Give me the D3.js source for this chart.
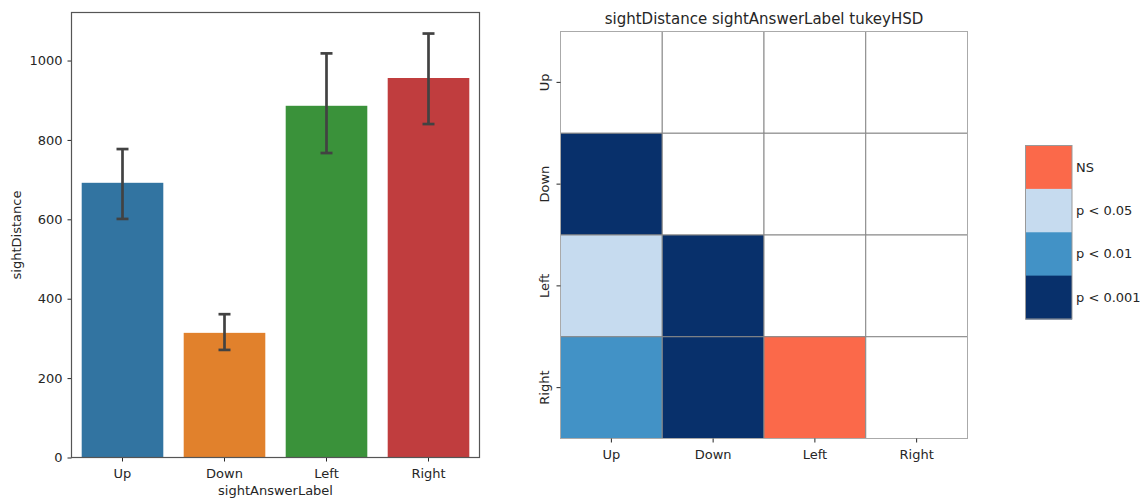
<!DOCTYPE html>
<html>
<head>
<meta charset="utf-8">
<script src="https://cdn.jsdelivr.net/npm/d3@7"></script>
<style>
  body { margin: 0; background: #fff; }
  svg text { font-family: "DejaVu Sans", sans-serif; fill: #262626; }
</style>
</head>
<body>
<svg id="chart" width="1144" height="499"></svg>
<script>
// bar chart data
const categories = ['Up', 'Down', 'Left', 'Right'];
const means = [692, 314, 886, 956];
const ciLow = [601, 271, 767, 840];
const ciHigh = [777, 361, 1018, 1068];
const barColors = ['#3274a1', '#e1812c', '#3a923a', '#c03d3e'];
const yTicks = [0, 200, 400, 600, 800, 1000];

// tukey matrix: row, col, significance level (lower triangle only)
const levels = ['NS', 'p < 0.05', 'p < 0.01', 'p < 0.001'];
const levelColors = ['#fb694a', '#c6dbef', '#4292c6', '#08306b'];
const pairs = [
  ['Down', 'Up', 'p < 0.001'],
  ['Left', 'Up', 'p < 0.05'],
  ['Left', 'Down', 'p < 0.001'],
  ['Right', 'Up', 'p < 0.01'],
  ['Right', 'Down', 'p < 0.001'],
  ['Right', 'Left', 'NS']
];

const svg = d3.select('#chart');

// ---- left: bar plot ----
const bx0 = 71.5, bx1 = 479.5, by0 = 12.5, by1 = 457.5;
const x = d3.scaleBand().domain(categories).range([bx0, bx1]).paddingInner(0.2).paddingOuter(0.1);
const y = d3.scaleLinear().domain([0, 1121]).range([by1, by0]);

const bars = svg.append('g');
bars.selectAll('rect')
  .data(categories)
  .join('rect')
  .attr('x', d => x(d))
  .attr('width', x.bandwidth())
  .attr('y', (d, i) => y(means[i]))
  .attr('height', (d, i) => y(0) - y(means[i]))
  .attr('fill', (d, i) => barColors[i]);

// error bars
const err = svg.append('g').attr('stroke', '#424242').attr('stroke-width', 2.7).attr('fill', 'none');
categories.forEach((c, i) => {
  const cx = x(c) + x.bandwidth() / 2;
  err.append('line').attr('x1', cx).attr('x2', cx).attr('y1', y(ciLow[i])).attr('y2', y(ciHigh[i]));
  err.append('line').attr('x1', cx - 6).attr('x2', cx + 6).attr('y1', y(ciLow[i])).attr('y2', y(ciLow[i]));
  err.append('line').attr('x1', cx - 6).attr('x2', cx + 6).attr('y1', y(ciHigh[i])).attr('y2', y(ciHigh[i]));
});

const yAxis = svg.append('g')
  .attr('transform', `translate(${bx0},0)`)
  .call(d3.axisLeft(y).tickValues(yTicks).tickFormat(d3.format('d')).tickSize(4).tickPadding(5));
yAxis.select('.domain').remove();
yAxis.selectAll('text').style('font-size', '13px');
yAxis.selectAll('line').attr('stroke', '#262626');

const xAxis = svg.append('g')
  .attr('transform', `translate(0,${by1})`)
  .call(d3.axisBottom(x).tickSize(4).tickPadding(7));
xAxis.select('.domain').remove();
xAxis.selectAll('text').style('font-size', '13px');
xAxis.selectAll('line').attr('stroke', '#262626');

svg.append('rect')
  .attr('x', bx0).attr('y', by0).attr('width', bx1 - bx0).attr('height', by1 - by0)
  .attr('fill', 'none').attr('stroke', '#555').attr('stroke-width', 1.2);

svg.append('text')
  .attr('x', (bx0 + bx1) / 2).attr('y', 495)
  .attr('text-anchor', 'middle').style('font-size', '13px')
  .text('sightAnswerLabel');
svg.append('text')
  .attr('transform', `translate(21,${(by0 + by1) / 2}) rotate(-90)`)
  .attr('text-anchor', 'middle').style('font-size', '13px')
  .text('sightDistance');

// ---- right: tukey heatmap ----
const hx0 = 560.5, hx1 = 967.5, hy0 = 31.5, hy1 = 438.5;
const hx = d3.scaleBand().domain(categories).range([hx0, hx1]);
const hy = d3.scaleBand().domain(categories).range([hy0, hy1]);
const colorOf = d3.scaleOrdinal().domain(levels).range(levelColors);

const cells = [];
categories.forEach(r => categories.forEach(c => {
  const p = pairs.find(q => q[0] === r && q[1] === c);
  cells.push({ row: r, col: c, level: p ? p[2] : null });
}));

svg.append('g').selectAll('rect')
  .data(cells)
  .join('rect')
  .attr('x', d => hx(d.col))
  .attr('y', d => hy(d.row))
  .attr('width', hx.bandwidth())
  .attr('height', hy.bandwidth())
  .attr('fill', d => d.level ? colorOf(d.level) : '#fff')
  .attr('stroke', '#888')
  .attr('stroke-width', 1);

svg.append('rect')
  .attr('x', hx0).attr('y', hy0).attr('width', hx1 - hx0).attr('height', hy1 - hy0)
  .attr('fill', 'none').attr('stroke', '#aaa').attr('stroke-width', 1);

const hxAxis = svg.append('g')
  .attr('transform', `translate(0,${hy1})`)
  .call(d3.axisBottom(hx).tickSize(4).tickPadding(7));
hxAxis.select('.domain').remove();
hxAxis.selectAll('text').style('font-size', '13px');
hxAxis.selectAll('line').attr('stroke', '#262626');

const hyAxis = svg.append('g')
  .attr('transform', `translate(${hx0},0)`)
  .call(d3.axisLeft(hy).tickSize(4).tickPadding(4));
hyAxis.select('.domain').remove();
hyAxis.selectAll('line').attr('stroke', '#262626');
hyAxis.selectAll('text')
  .style('font-size', '13px')
  .attr('text-anchor', 'middle')
  .attr('dy', 0)
  .attr('x', 0)
  .attr('transform', 'translate(-12,0) rotate(-90)');

svg.append('text')
  .attr('x', (hx0 + hx1) / 2).attr('y', 24)
  .attr('text-anchor', 'middle').style('font-size', '15px')
  .text('sightDistance sightAnswerLabel tukeyHSD');

// legend colorbar
const lx = 1025.5, lw = 46.5, ly0 = 145.5, ly1 = 319;
const ly = d3.scaleBand().domain(levels).range([ly0, ly1]);
const legend = svg.append('g');
legend.selectAll('rect')
  .data(levels)
  .join('rect')
  .attr('x', lx).attr('y', d => ly(d))
  .attr('width', lw).attr('height', ly.bandwidth() + 0.5)
  .attr('fill', d => colorOf(d));
legend.append('rect')
  .attr('x', lx).attr('y', ly0).attr('width', lw).attr('height', ly1 - ly0)
  .attr('fill', 'none').attr('stroke', '#999').attr('stroke-width', 1);
legend.selectAll('text')
  .data(levels)
  .join('text')
  .attr('x', lx + lw + 4)
  .attr('y', d => ly(d) + ly.bandwidth() / 2)
  .attr('dy', '0.35em')
  .style('font-size', '13px')
  .text(d => d);
</script>
</body>
</html>
